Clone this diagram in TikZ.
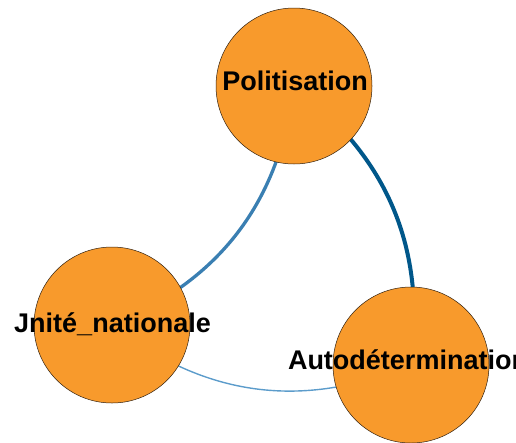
\documentclass[tikz,border=0pt]{standalone}
\usepackage{fontspec}
\setmainfont{Liberation Sans}
\definecolor{themeorange}{HTML}{F89A2C}
\definecolor{linkdark}{HTML}{00578A}
\definecolor{linkmid}{HTML}{3A7FB2}
\definecolor{linklight}{HTML}{5C9CCB}

\begin{document}
\begin{tikzpicture}[x=1pt,y=1pt,
  theme/.style={circle,draw=black!75!brown,line width=0.5pt,fill=themeorange,
    minimum size=156pt,inner sep=0pt},
  themetext/.style={font=\bfseries\fontsize{27}{32}\selectfont,
    anchor=base,inner sep=0pt}]
\useasboundingbox (0,0) rectangle (516,-442);
\clip (0,0) rectangle (516,-442);

% centres
\coordinate (polc) at (294,-86);
\coordinate (unic) at (112,-325);
\coordinate (autc) at (411,-365);

% links, centre to centre
\draw[linkdark,line width=4pt] (polc) to[bend left=30] (autc);
\draw[linkmid,line width=3.3pt] (polc) to[bend left=30] (unic);
\draw[linklight,line width=1.4pt] (autc) to[bend left=30] (unic);

% themes
\node[theme] (pol) at (polc) {};
\node[theme] (uni) at (unic) {};
\node[theme] (aut) at (autc) {};

% labels
\node[themetext] (polt) at (295,-90) {Politisation};
\node[themetext] (unit) at (112.5,-332) {Jnité\_nationale};
\node[themetext] (autt) at (408,-369) {Autodétermination};
\end{tikzpicture}
\end{document}
